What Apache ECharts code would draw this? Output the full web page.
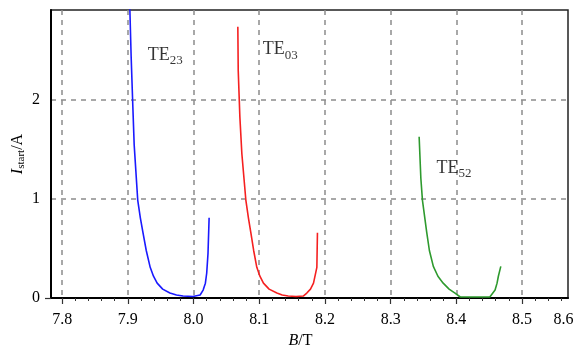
<!DOCTYPE html>
<html>
<head>
<meta charset="utf-8">
<script src="https://cdn.jsdelivr.net/npm/echarts@6/dist/echarts.min.js"></script>
<style>
html,body{margin:0;padding:0;background:#fff;}
#chart{width:577px;height:353px;}
</style>
</head>
<body>
<div id="chart"></div>
<script>
// ---- data ----
var xMin = 7.783, xMax = 8.570;
var yMin = 0, yMax = 2.91;
var xTickValues = [7.8, 7.9, 8.0, 8.1, 8.2, 8.3, 8.4, 8.5];
var xTickLabels = ['7.8', '7.9', '8.0', '8.1', '8.2', '8.3', '8.4', '8.5'];
var xEdgeLabelValue = 8.563;
var xEdgeLabel = '8.6';
var xMinorTickStep = 0.02;
var yTickValues = [0, 1, 2];
var yTickLabels = ['0', '1', '2'];

var te23B = [7.9027, 7.905, 7.9076, 7.9096, 7.915, 7.919, 7.923, 7.928, 7.934, 7.939, 7.9446, 7.953, 7.964, 7.974, 7.984, 7.999, 8.010, 8.0146, 8.018, 8.020, 8.022, 8.0237];
var te23I = [3.0, 2.44, 1.93, 1.55, 0.99, 0.81, 0.66, 0.48, 0.31, 0.22, 0.15, 0.09, 0.05, 0.03, 0.02, 0.015, 0.03, 0.08, 0.15, 0.25, 0.45, 0.81];

var te03B = [8.0674, 8.068, 8.0705, 8.0735, 8.0796, 8.0835, 8.0872, 8.0915, 8.0963, 8.101, 8.1064, 8.115, 8.1268, 8.135, 8.144, 8.156, 8.167, 8.1724, 8.178, 8.1826, 8.1877, 8.1886];
var te03I = [2.74, 2.30, 1.83, 1.46, 0.99, 0.81, 0.66, 0.48, 0.31, 0.22, 0.15, 0.09, 0.05, 0.03, 0.02, 0.015, 0.02, 0.05, 0.09, 0.15, 0.31, 0.66];

var te52B = [8.3434, 8.346, 8.3484, 8.355, 8.359, 8.365, 8.372, 8.380, 8.389, 8.398, 8.406, 8.43, 8.451, 8.459, 8.462, 8.464, 8.4677];
var te52I = [1.63, 1.21, 0.99, 0.66, 0.48, 0.32, 0.22, 0.15, 0.09, 0.05, 0.01, 0.01, 0.01, 0.08, 0.15, 0.22, 0.32];

var modeNames = ['TE', 'TE', 'TE'];
var modeSubs = ['23', '03', '52'];
var modeLabelB = [7.9568, 8.1318, 8.3966];
var modeLabelI = [2.45, 2.51, 1.31];

// ---- build ----
function pairs(xs, ys) { return xs.map(function (x, i) { return [x, ys[i]]; }); }
var minorTicks = [];
for (var k = 0; ; k++) {
  var v = +(7.8 + k * xMinorTickStep).toFixed(4);
  if (v > xMax) break;
  minorTicks.push(v);
}
var serif = '"Liberation Serif", "DejaVu Serif", serif';
var gridLine = { show: true, lineStyle: { color: '#8c8c8c', type: [5, 5], width: 1.5 } };

var chart = echarts.init(document.getElementById('chart'), null, { renderer: 'canvas' });
var colors = ['#1a1aff', '#f52020', '#2e9a2e'];
var lineSeries = [[te23B, te23I], [te03B, te03I], [te52B, te52I]].map(function (d, i) {
  return {
    type: 'line', xAxisIndex: 0, yAxisIndex: 0,
    data: pairs(d[0], d[1]), showSymbol: false, symbol: 'none',
    smooth: false, clip: true,
    lineStyle: { color: colors[i], width: 1.6 }, z: 5
  };
});
var labelSeries = {
  type: 'scatter', xAxisIndex: 0, yAxisIndex: 0, symbolSize: 0, silent: true,
  data: modeLabelB.map(function (b, i) { return { value: [b, modeLabelI[i]], name: i }; }),
  label: {
    show: true, position: 'inside',
    formatter: function (p) { return '{a|' + modeNames[p.data.name] + '}{b|' + modeSubs[p.data.name] + '}'; },
    rich: {
      a: { fontFamily: serif, fontSize: 18, color: '#000', lineHeight: 24, verticalAlign: 'middle' },
      b: { fontFamily: serif, fontSize: 13, color: '#000', lineHeight: 24, verticalAlign: 'bottom', padding: [10, 0, 0, 0] }
    }
  },
  z: 6
};

chart.setOption({
  animation: false,
  backgroundColor: '#fff',
  grid: { left: 51, top: 10, right: 9, bottom: 55, outerBoundsMode: 'none', containLabel: false, show: true, borderColor: '#222', borderWidth: 1.5, backgroundColor: 'transparent' },
  xAxis: [
    {
      type: 'value', min: xMin, max: xMax, position: 'bottom',
      name: '{i|B}{n|/T}', nameLocation: 'middle', nameGap: 35, nameMoveOverlap: false,
      nameTextStyle: { padding: [0, 18, 0, 0], rich: { i: { fontFamily: serif, fontSize: 16, fontStyle: 'italic', color: '#000' }, n: { fontFamily: serif, fontSize: 16, color: '#000' } } },
      axisLine: { show: true, onZero: false, lineStyle: { color: '#000', width: 2 } },
      axisTick: { show: true, customValues: xTickValues, length: 6, inside: false, lineStyle: { color: '#333', width: 1.2 } },
      axisLabel: {
        customValues: xTickValues.concat([xEdgeLabelValue]),
        formatter: function (v) {
          if (Math.abs(v - xEdgeLabelValue) < 1e-6) return xEdgeLabel;
          for (var i = 0; i < xTickValues.length; i++) if (Math.abs(v - xTickValues[i]) < 1e-6) return xTickLabels[i];
          return '';
        },
        fontFamily: serif, fontSize: 16, color: '#000', margin: 14
      },
      splitLine: gridLine
    },
    {
      type: 'value', min: xMin, max: xMax, position: 'bottom',
      axisLine: { show: false },
      axisTick: { show: true, customValues: minorTicks, length: 3, lineStyle: { color: '#333', width: 1 } },
      axisLabel: { show: false }, splitLine: { show: false }
    }
  ],
  yAxis: [
    {
      type: 'value', min: yMin, max: yMax,
      name: '{i|I}{s|start}{n|/A}', nameLocation: 'middle', nameGap: 24, nameRotate: 90, nameMoveOverlap: false,
      nameTextStyle: { rich: {
        i: { fontFamily: serif, fontSize: 16, fontStyle: 'italic', color: '#000' },
        s: { fontFamily: serif, fontSize: 11, color: '#000', verticalAlign: 'bottom', padding: [8, 0, 0, 0] },
        n: { fontFamily: serif, fontSize: 16, color: '#000' } } },
      axisLine: { show: true, onZero: false, lineStyle: { color: '#000', width: 2 } },
      axisTick: { show: false, customValues: yTickValues },
      axisLabel: {
        customValues: yTickValues,
        formatter: function (v) {
          for (var i = 0; i < yTickValues.length; i++) if (Math.abs(v - yTickValues[i]) < 1e-6) return yTickLabels[i];
          return '';
        },
        fontFamily: serif, fontSize: 16, color: '#000', margin: 11
      },
      splitLine: gridLine
    },
    {
      type: 'value', min: yMin, max: yMax, position: 'left',
      axisLine: { show: false },
      axisTick: { show: true, customValues: [yTickValues[0]], length: 6, lineStyle: { color: '#333', width: 1.2 } },
      axisLabel: { show: false }, splitLine: { show: false }
    }
  ],
  series: lineSeries.concat([labelSeries])
});
</script>
</body>
</html>
